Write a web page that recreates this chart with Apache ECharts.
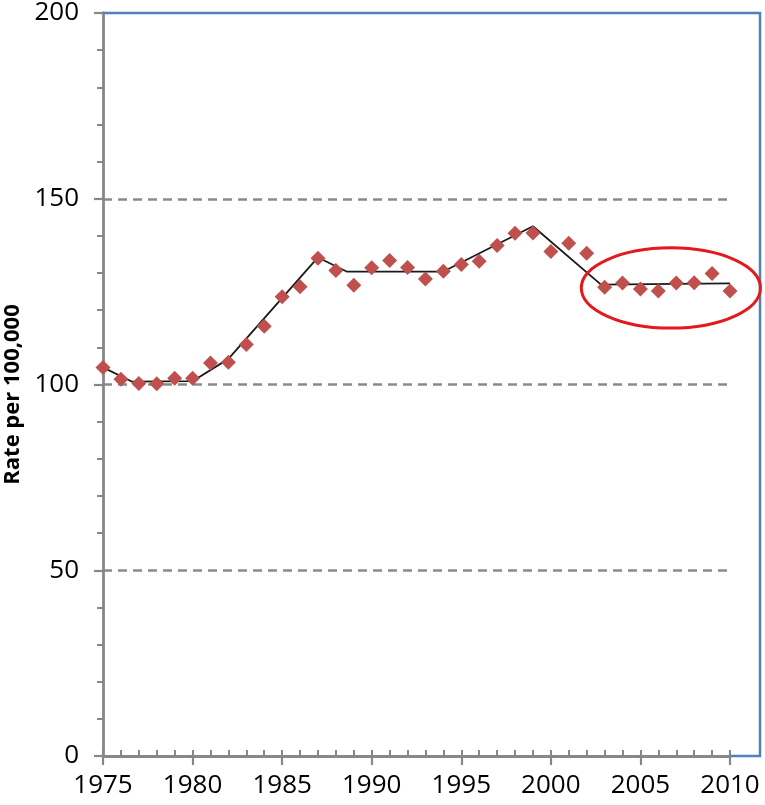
<!DOCTYPE html>
<html>
<head>
<meta charset="utf-8">
<title>Rate per 100,000</title>
<script src="https://cdn.jsdelivr.net/npm/echarts@6/dist/echarts.min.js"></script>
<style>
  html, body { margin: 0; padding: 0; background: #fff; }
  #chart { width: 765px; height: 805px; }
</style>
</head>
<body>
<div id="chart"></div>
<script>
// observed rates, one per year
const years = [1975, 1976, 1977, 1978, 1979, 1980, 1981, 1982, 1983, 1984,
  1985, 1986, 1987, 1988, 1989, 1990, 1991, 1992, 1993, 1994,
  1995, 1996, 1997, 1998, 1999, 2000, 2001, 2002, 2003, 2004,
  2005, 2006, 2007, 2008, 2009, 2010]
const rates = [104.6, 101.4, 100.3, 100.2, 101.7, 101.7, 105.8, 106.0, 110.8, 115.7,
  123.6, 126.3, 134.0, 130.7, 126.7, 131.4, 133.4, 131.5, 128.4, 130.5,
  132.3, 133.2, 137.4, 140.7, 140.8, 135.8, 138.0, 135.3, 126.2, 127.3,
  125.7, 125.2, 127.3, 127.4, 129.9, 125.2]

// fitted trend (joinpoints)
const trendYears = [1975, 1976.6, 1980, 1982, 1987, 1988.6, 1994, 1999, 2002.8, 2010]
const trendRates = [104.6, 100.8, 100.9, 106.9, 134.2, 130.4, 130.4, 142.6, 126.9, 127.2]

const yTicks = [0, 50, 100, 150, 200]
const axisName = 'Rate per 100,000'

const axisGray = '#878787'
const font = '"Open Sans", "DejaVu Sans", sans-serif'

const chart = echarts.init(document.getElementById('chart'))

chart.setOption({
  animation: false,
  grid: {
    left: 103,
    right: 35,
    top: 13,
    bottom: 49,
    outerBoundsMode: 'none'
  },
  xAxis: [
    {
      type: 'value',
      min: years[0],
      max: years[years.length - 1],
      interval: 5,
      axisLine: { lineStyle: { color: axisGray, width: 2.8 } },
      axisTick: { inside: false, length: 9, lineStyle: { color: axisGray, width: 2.2 } },
      axisLabel: {
        margin: 17,
        color: '#000',
        fontSize: 26,
        fontFamily: font,
        formatter: v => String(v)
      },
      splitLine: { show: false }
    },
    {
      // yearly minor ticks pointing into the plot
      type: 'value',
      position: 'bottom',
      min: years[0],
      max: years[years.length - 1],
      interval: 1,
      axisLine: { show: false },
      axisTick: { inside: true, length: 6, lineStyle: { color: axisGray, width: 2 } },
      axisLabel: { show: false },
      splitLine: { show: false }
    }
  ],
  yAxis: {
    type: 'value',
    min: yTicks[0],
    max: yTicks[yTicks.length - 1],
    interval: 50,
    axisLine: { show: true, lineStyle: { color: axisGray, width: 2.8 } },
    axisTick: { show: true, length: 9, lineStyle: { color: axisGray, width: 2.2 } },
    minorTick: { show: true, splitNumber: 5, length: 6, lineStyle: { color: axisGray, width: 2 } },
    axisLabel: {
      margin: 24,
      color: '#000',
      fontSize: 26,
      fontFamily: font
    },
    splitLine: {
      show: true,
      lineStyle: {
        // no dashed line on 0 and 200
        color: ['rgba(0,0,0,0)', '#8a8a8a', '#8a8a8a', '#8a8a8a', 'rgba(0,0,0,0)'],
        width: 2.5,
        type: [9, 6]
      }
    }
  },
  series: [
    {
      name: 'trend',
      type: 'line',
      data: trendYears.map((y, i) => [y, trendRates[i]]),
      symbol: 'none',
      lineStyle: { color: '#1a1a1a', width: 1.8 },
      z: 2
    },
    {
      name: 'rate',
      type: 'scatter',
      data: years.map((y, i) => [y, rates[i]]),
      symbol: 'diamond',
      symbolSize: 15,
      itemStyle: { color: '#C0504D', opacity: 1 },
      z: 3
    }
  ]
})

// frame, highlight ellipse and rotated axis title
const tl = chart.convertToPixel({ gridIndex: 0 }, [1975, 200])
const br = chart.convertToPixel({ gridIndex: 0 }, [2010, 0])
const frameRight = br[0] + 30
const c = chart.convertToPixel({ gridIndex: 0 }, [2006.7, 126])
const rx = chart.convertToPixel({ gridIndex: 0 }, [2011.7, 126])[0] - c[0]
const ry = c[1] - chart.convertToPixel({ gridIndex: 0 }, [2006.7, 136.8])[1]

chart.setOption({
  graphic: [
    {
      type: 'polyline',
      shape: { points: [[tl[0], tl[1]], [frameRight, tl[1]], [frameRight, br[1]], [br[0], br[1]]] },
      style: { fill: null, stroke: '#4F81BD', lineWidth: 2.5 },
      z: 10
    },
    {
      type: 'ellipse',
      shape: { cx: c[0], cy: c[1], rx: rx, ry: ry },
      style: { fill: null, stroke: '#E3191E', lineWidth: 3 },
      z: 11
    },
    {
      type: 'text',
      x: 13,
      y: (tl[1] + br[1]) / 2 + 10,
      rotation: Math.PI / 2,
      style: {
        text: axisName,
        font: 'bold 22px ' + font,
        fill: '#000',
        align: 'center',
        verticalAlign: 'middle'
      },
      z: 10
    }
  ]
})
</script>
</body>
</html>
